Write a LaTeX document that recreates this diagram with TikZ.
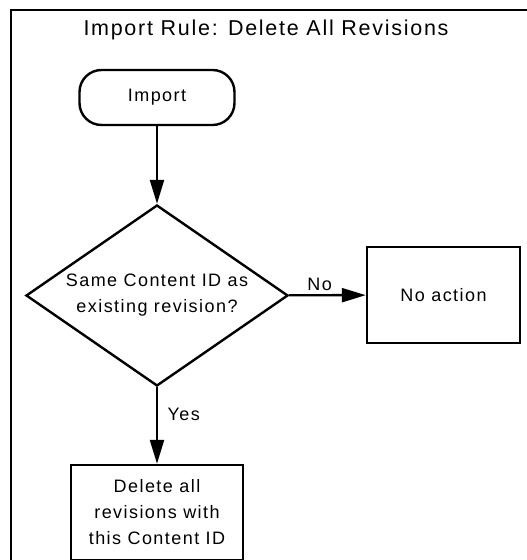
\documentclass[tikz,border=0pt]{standalone}
\usepackage{fontspec}
\setmainfont{Liberation Sans}[LetterSpace=8]
\usetikzlibrary{arrows.meta,shapes.geometric}
\tikzstyle{arrow} = [line width=2.4pt,-{Triangle[length=24pt,width=14pt]}]
\tikzstyle{startstop} = [draw,line width=2.4pt,rounded corners=22pt,minimum width=155pt,minimum height=55pt]
\tikzstyle{decision} = [draw,line width=2.4pt,diamond,aspect=1.448,inner sep=0pt,minimum width=262pt,minimum height=181pt,align=center]
\tikzstyle{process} = [draw,line width=2.4pt,inner sep=0pt,align=center]

\begin{document}
\begin{tikzpicture}[x=1pt,y=-1pt,
		every node/.style={font=\fontsize{18}{26}\selectfont}]
		\begin{scope}

		% define constants
		\def \w {527}
		\def \h {560}
		\def \c {157}

		% Draw the frame
		\clip (0,0) rectangle (\w,\h);
		\draw[line width=2.4pt] (11,10) rectangle (\w+40,\h+40);
		\node (title) [font=\fontsize{21.5}{24}\selectfont] at (266,30) {Import Rule: Delete All Revisions};

		% Draw the chart
		\node (imp) [startstop] at (\c,97.5) {Import};
		\node (cmp) [decision] at (\c,295.5) {Same Content ID as\\existing revision?};
		\node (none) [process,minimum width=153pt,minimum height=96pt] at (443.5,295) {No action};
		\node (del) [process,minimum width=172pt,minimum height=95pt] at (\c,512.5) {Delete all\\revisions with\\this Content ID};

		\draw[arrow] (imp) -- (cmp);
		\draw[arrow] (cmp) -- node (lno) [above,pos=0.4] {No} (none);
		\draw[arrow] (cmp) -- node (lyes) [right,pos=0.36,xshift=6pt] {Yes} (del);

		\end{scope}
\end{tikzpicture}
\end{document}
